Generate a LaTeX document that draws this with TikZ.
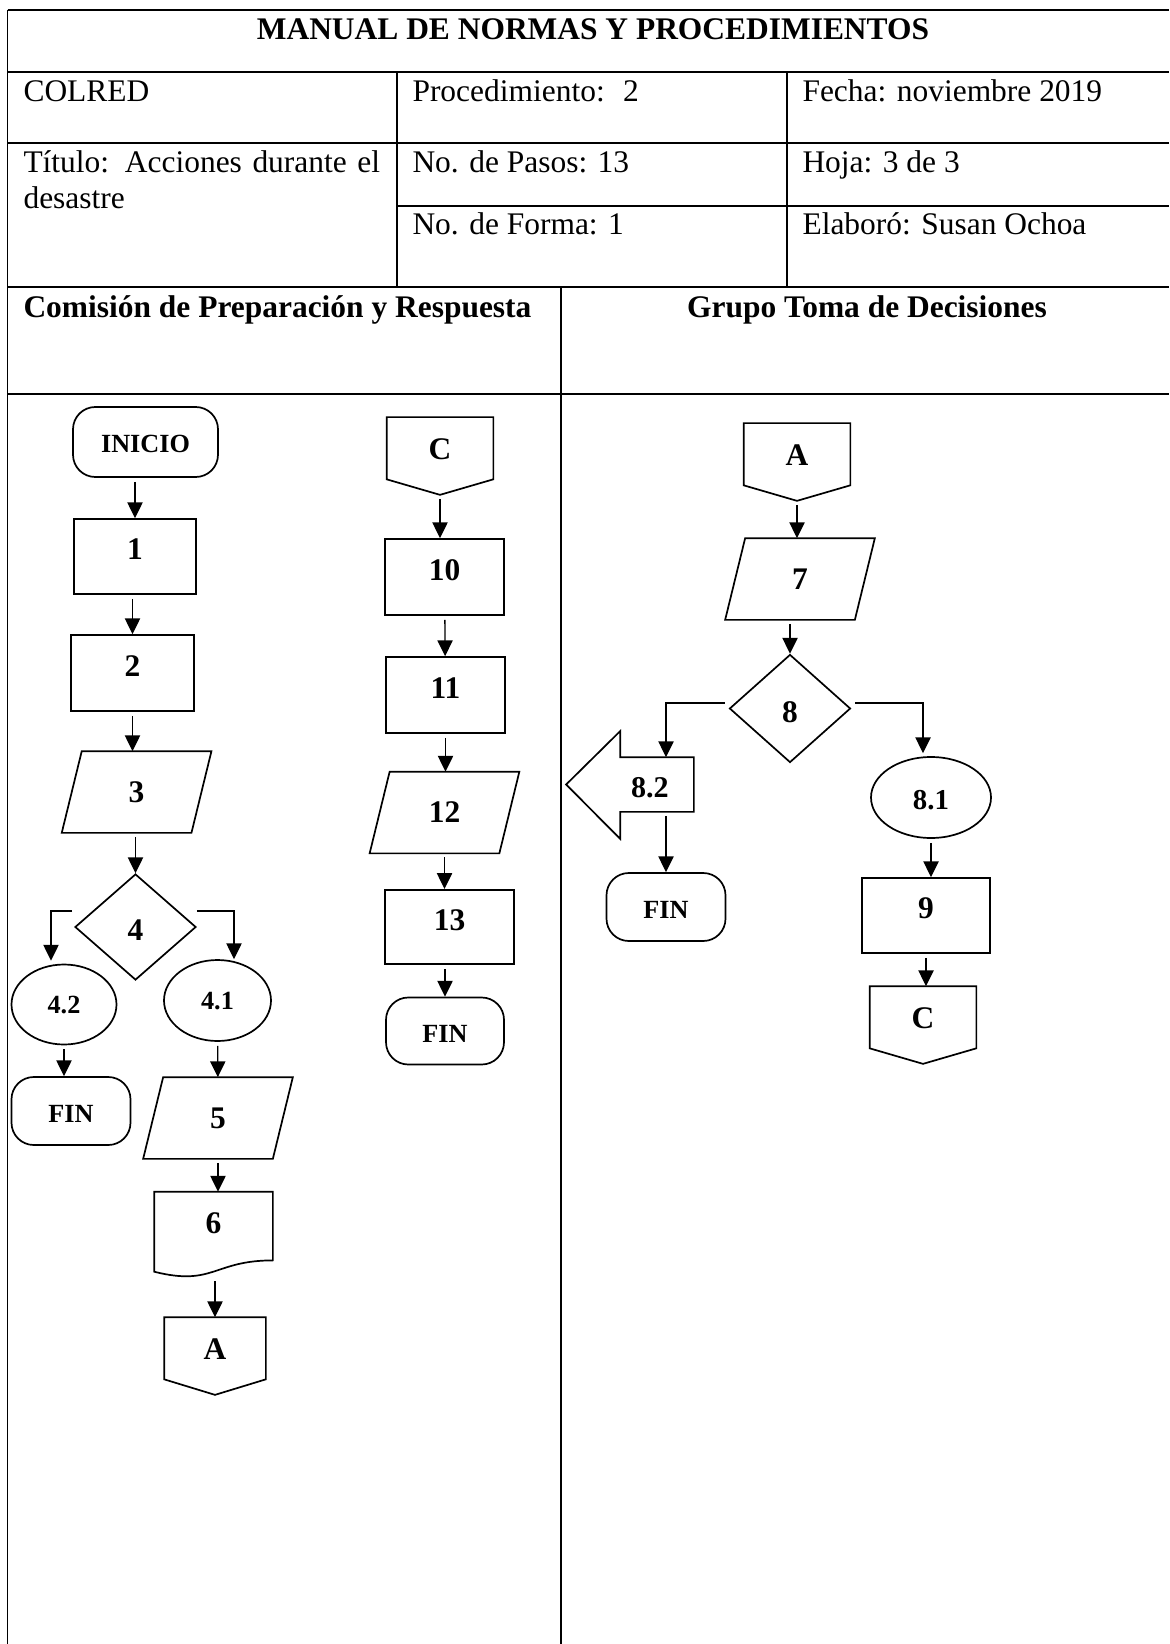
\documentclass[tikz,border=0pt]{standalone}
\usepackage{fontspec}
\setmainfont{Liberation Serif}
\usetikzlibrary{shapes.geometric,arrows.meta,calc}
\newcommand{\dpx}{*0.3815pt}
\tikzset{
  txt/.style={anchor=base west, inner sep=0pt, font=\fontsize{12}{13.6}\selectfont},
  cab/.style={txt, font=\fontsize{12}{13.6}\selectfont\bfseries},
  linea/.style={line width=0.65pt},
  forma/.style={linea, inner sep=0pt, font=\fontsize{12}{14}\selectfont\bfseries, text height=8pt, text depth=5.4pt},
  caja/.style={forma, draw, rectangle, minimum width=120\dpx, minimum height=76\dpx},
  term/.style={forma, draw, rectangle, rounded corners=8.5pt, minimum width=119\dpx, minimum height=68\dpx,
    font=\fontsize{10}{12}\selectfont\bfseries, text height=8.8pt, text depth=0pt},
  datos/.style={forma, minimum width=128\dpx, minimum height=80\dpx, text height=8pt, text depth=0pt},
  decision/.style={forma, draw, diamond, minimum width=121\dpx, minimum height=106\dpx, text height=10.6pt, text depth=0pt},
  elip/.style={forma, draw, ellipse, minimum width=106\dpx, minimum height=80\dpx,
    font=\fontsize{10}{12}\selectfont\bfseries, text height=7pt, text depth=0pt},
  conector/.style={forma, minimum width=105\dpx, minimum height=76\dpx},
  flecha/.style={-{Triangle[width=5.8pt,length=6pt]}, line width=0.5pt, shorten <=1.5pt},
}
\begin{document}
\begin{tikzpicture}[x=0.3815pt, y=-0.3815pt]
\useasboundingbox (0,0) rectangle (1169,1644);
\draw[line width=0.7pt] (7.5,10) -- (1169,10) (7.5,72) -- (1169,72) (7.5,143) -- (1169,143)
  (397,206) -- (1169,206) (7.5,287) -- (1169,287) (7.5,394) -- (1169,394);
\draw[line width=0.5pt] (7.5,10) -- (7.5,1644) (561,287) -- (561,1644);
\draw[line width=0.4pt] (397,72) -- (397,287) (787,72) -- (787,287);

\node[txt, anchor=base] (titulo) at (593,40) {\bfseries MANUAL DE NORMAS Y PROCEDIMIENTOS};
\node[txt] (colred) at (23,102) {COLRED};
\node[txt] (proc) at (412,102) {Procedimiento:~ 2};
\node[txt] (fecha) at (802,102) {Fecha: noviembre 2019};
\node[txt, text width=136pt, align=justify] (tit) at (23,173) {Título: Acciones durante el desastre};
\node[txt] (pasos) at (412,173) {No. de Pasos: 13};
\node[txt] (hoja) at (802,173) {Hoja: 3 de 3};
\node[txt] (nforma) at (412,235) {No. de Forma: 1};
\node[txt] (elab) at (802,235) {Elaboró: Susan Ochoa};
\node[cab] (cpr) at (23,318) {Comisión de Preparación y Respuesta};
\node[cab, anchor=base] (gtd) at (867,318) {Grupo Toma de Decisiones};

\node[term, minimum width=145\dpx, minimum height=70\dpx, text height=8.1pt] (ini) at (145.5,442) {INICIO};
\node[caja, minimum width=122\dpx, minimum height=75\dpx] (n1) at (135,556.5) {1};
\node[caja, minimum width=123\dpx] (n2) at (132.5,673) {2};
\node[datos] (n3) at (136.6,792) {3};
\node[decision] (n4) at (135.5,927) {4};
\node[elip, minimum width=105\dpx] (e42) at (64,1004.5) {4.2};
\node[elip, minimum width=107\dpx, minimum height=81\dpx] (e41) at (217.5,1000.5) {4.1};
\node[term] (fin1) at (71,1111) {FIN};
\node[datos] (n5) at (218,1118) {5};
\node[forma, minimum width=117\dpx, minimum height=84\dpx, text depth=8.4pt] (n6) at (213.5,1234.5) {6};
\node[conector, minimum width=100\dpx] (conA) at (215,1356) {A};

\node[conector] (conC) at (440,456) {C};
\node[caja, minimum width=119\dpx] (n10) at (444.5,577) {10};
\node[caja, minimum width=119\dpx] (n11) at (445.5,695) {11};
\node[datos] (n12) at (444.5,812.5) {12};
\node[caja, minimum width=129\dpx, minimum height=74.5\dpx] (n13) at (449.5,927) {13};
\node[term, minimum width=118\dpx, minimum height=67\dpx] (fin2) at (445,1031) {FIN};

\node[conector] (conA2) at (797,462) {A};
\node[datos] (n7) at (800,579) {7};
\node[decision, minimum height=108\dpx] (n8) at (790,708.5) {8};
\node[forma, minimum width=72\dpx, minimum height=53\dpx, font=\fontsize{11.5}{14}\selectfont\bfseries,
  text height=10pt, text depth=0pt] (n82) at (657,784.5) {\hspace*{-5.4pt}8.2};
\node[term] (fin3) at (666,907) {FIN};
\node[elip, minimum width=120\dpx, minimum height=81\dpx, font=\fontsize{11}{13}\selectfont\bfseries,
  text height=9pt] (e81) at (931,797.5) {8.1};
\node[caja, minimum width=128\dpx, minimum height=75\dpx] (n9) at (926,915.5) {9};
\node[conector] (conC2) at (923,1025) {C};

\foreach \n in {n3,n5,n7,n12}
  \draw[linea] ($(\n.north west)+(10,0)$) -- ($(\n.north east)+(10,0)$)
    -- ($(\n.south east)+(-10,0)$) -- ($(\n.south west)+(-10,0)$) -- cycle;
\foreach \n in {conA,conC,conA2,conC2}
  \draw[linea] (\n.north west) -- (\n.north east) -- ($(\n.north east)!0.8!(\n.south east)$)
    -- (\n.south) -- ($(\n.north west)!0.8!(\n.south west)$) -- cycle;
\draw[linea] (n6.north west) -- (n6.north east) -- ($(n6.north east)!0.802!(n6.south east)$)
  .. controls ($(n6.north)!0.802!(n6.south)$) and ($(n6.north)!1.108!(n6.south)$)
  .. ($(n6.north west)!0.934!(n6.south west)$) -- cycle;
\draw[linea] (n82.north east) -- (n82.north west) -- ++(0,-26) -- ($(n82.west)+(-54,0)$)
  -- ($(n82.south west)+(0,27)$) -- (n82.south west) -- (n82.south east) -- cycle;

\path[flecha]
  (ini.south -| n1) edge (n1)
  (n1.south -| n2) edge (n2)
  (n2) edge (n2 |- n3.north)
  (n3.south -| n4) edge (n4)
  (e42) edge (e42 |- fin1.north)
  (e41) edge (n5)
  (n5) edge (n5 |- n6.north)
  (n6.south -| conA) edge (conA)
  (conC) edge (conC |- n10.north)
  (n10) edge (n11)
  (n11) edge (n11 |- n12.north)
  (n12) edge (n12 |- n13.north)
  (n13.south -| fin2) edge (fin2)
  (conA2) edge (conA2 |- n7.north)
  (n7.south -| n8) edge (n8)
  (e81) edge (e81 |- n9.north)
  (n9) edge (n9 |- conC2.north)
  (n82.south -| fin3) edge (fin3);
\draw[flecha] ($(n4.west)+(2,-16)$) -| ($(e42.north)+(-13,-3)$);
\draw[flecha] ($(n4.east)+(-4,-16)$) -| ($(e41.north)+(16.5,0)$);
\draw[flecha] ($(n8.west)+(0,-5.5)$) -| (n82.north -| fin3);
\draw[flecha] ($(n8.east)+(0,-5.5)$) -| ($(e81.north)+(-8,-3)$);
\end{tikzpicture}
\end{document}
